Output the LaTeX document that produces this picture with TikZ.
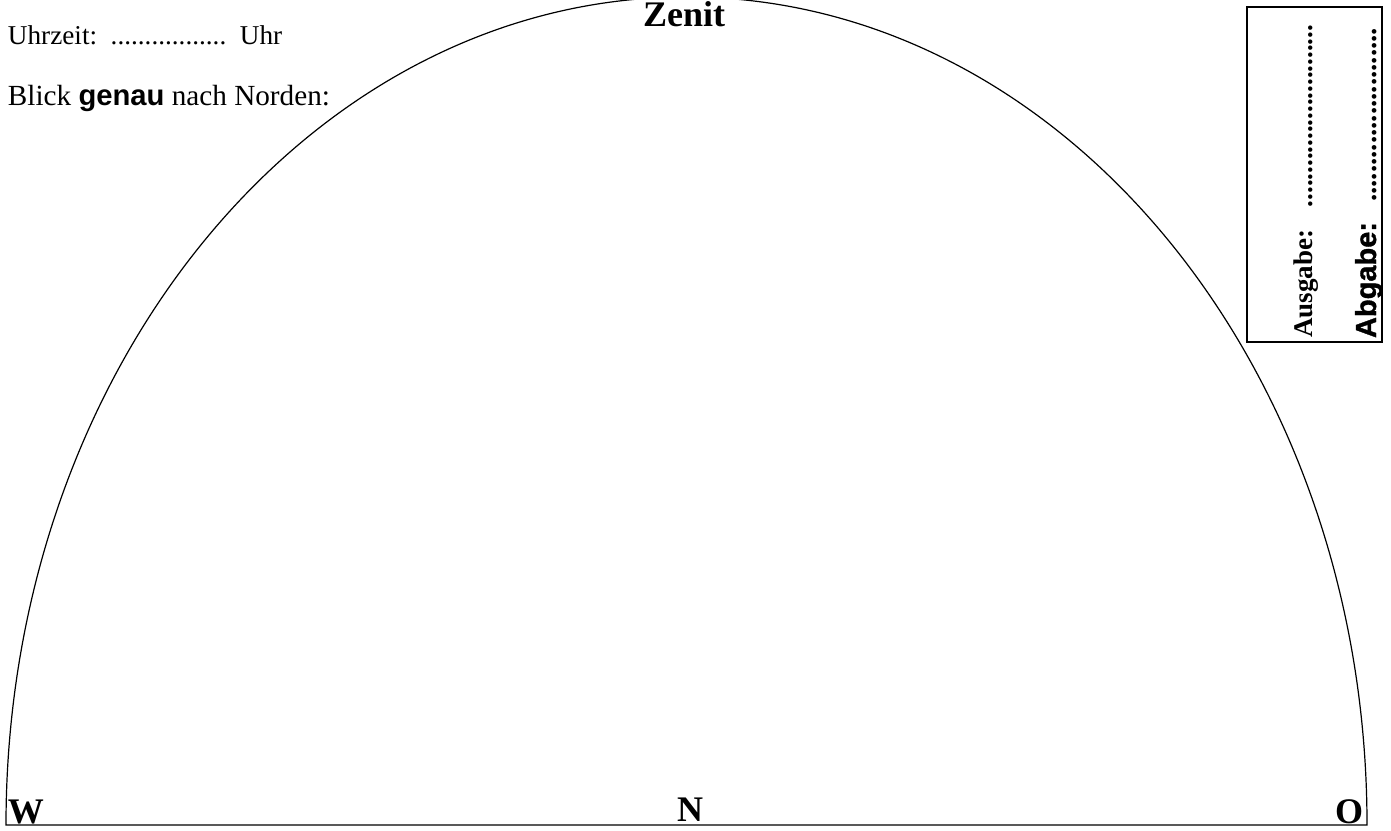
\documentclass[tikz,border=0pt]{standalone}
\usepackage{fontspec}
\setmainfont{Liberation Serif}
\setsansfont{Liberation Sans}
\newfontfamily\heavysans{Liberation Sans Bold}[FakeBold=1.2]
\begin{document}
\begin{tikzpicture}[x=0.5pt,y=0.5pt,
  lbl/.style={inner sep=0pt,outer sep=0pt},
  dir/.style={lbl,font=\fontsize{18}{20}\selectfont\bfseries},
  line/.style={draw=black,line width=0.6pt}]
\useasboundingbox (0,0) rectangle (1391,830);
% sky half-ellipse
\draw[line] (6,5) arc[start angle=180,end angle=0,x radius=680.5,y radius=828] -- cycle;
% header texts
\node[lbl,anchor=base west,font=\fontsize{13.6}{15}\selectfont] (uhr) at (8,785) {Uhrzeit:\ \ .................\ \ Uhr};
\node[lbl,anchor=base west,font=\fontsize{14.6}{16}\selectfont] (blick) at (8,724) {Blick {\sffamily\bfseries genau} nach Norden:};
\node[dir,anchor=base] (zenit) at (684,803) {Zenit};
\node[dir,anchor=base] (n) at (690,9) {N};
\node[dir,anchor=base west] (w) at (8,7) {W};
\node[dir,anchor=base east] (o) at (1363,7) {O};
% date box
\node[line,lbl,minimum width=67.5pt,minimum height=167.5pt,anchor=north west] (box) at (1247,823) {};
\node[lbl,anchor=base west,rotate=90,font=\fontsize{13.5}{15}\selectfont\bfseries] (ausgabe) at (1312,492) {Ausgabe:\hspace{11.5pt}...........................};
\node[lbl,anchor=base west,rotate=90,font=\fontsize{14.5}{16}\selectfont] (abgabe) at (1376,492) {{\heavysans Abgabe:}\hspace{10pt}{\bfseries........................}};
\end{tikzpicture}
\end{document}
